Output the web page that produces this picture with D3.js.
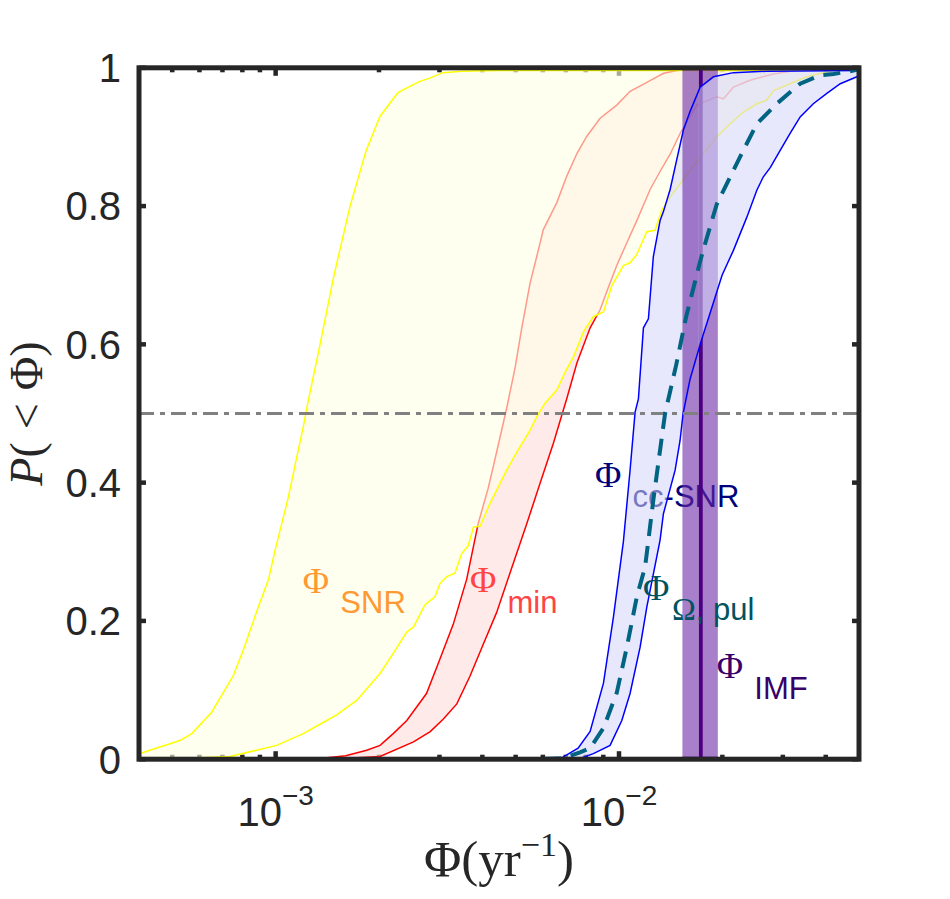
<!DOCTYPE html>
<html><head><meta charset="utf-8">
<script src="https://cdn.jsdelivr.net/npm/d3@7"></script>
<style>body{margin:0;background:#fff}svg{display:block}</style>
</head><body>
<svg id="chart" width="950" height="899"></svg>
<script>
// ---------------- data ----------------
const xDomain = [4e-4, 0.05];
const yTicks = [0, 0.2, 0.4, 0.6, 0.8, 1];
const yTickLabels = ["0", "0.2", "0.4", "0.6", "0.8", "1"];
const xMajorTicks = [1e-3, 1e-2];
const xMajorExps = ["-3", "-2"];
const xMinorTicks = [5e-4,6e-4,7e-4,8e-4,9e-4,2e-3,3e-3,4e-3,5e-3,6e-3,7e-3,8e-3,9e-3,2e-2,3e-2,4e-2];

// Phi_SNR band (yellow): left (upper) and right (lower) edges, [Phi, P]
const snrLeft = [[4.0e-4,0.008],[5.26e-4,0.027],[5.70e-4,0.037],[6.51e-4,0.068],[7.53e-4,0.121],[8.05e-4,0.158],[8.90e-4,0.220],[9.52e-4,0.259],[9.96e-4,0.302],[1.030e-3,0.331],[1.089e-3,0.379],[1.152e-3,0.437],[1.204e-3,0.481],[1.245e-3,0.519],[1.347e-3,0.600],[1.479e-3,0.700],[1.647e-3,0.800],[1.834e-3,0.880],[2.014e-3,0.930],[2.27e-3,0.964],[2.62e-3,0.980],[2.81e-3,0.985],[3.07e-3,0.993],[3.48e-3,0.995],[4.50e-3,0.996],[2.0e-2,0.996],[5.0e-2,0.997]];
const snrRight = [[4.0e-4,0.0],[5.26e-4,0.001],[7.36e-4,0.004],[8.81e-4,0.013],[1.007e-3,0.020],[1.204e-3,0.037],[1.409e-3,0.056],[1.506e-3,0.064],[1.722e-3,0.085],[2.014e-3,0.124],[2.20e-3,0.153],[2.41e-3,0.184],[2.52e-3,0.191],[2.72e-3,0.223],[2.91e-3,0.235],[3.01e-3,0.254],[3.15e-3,0.264],[3.33e-3,0.269],[3.48e-3,0.297],[3.64e-3,0.309],[3.77e-3,0.336],[3.94e-3,0.337],[4.21e-3,0.370],[4.71e-3,0.418],[5.04e-3,0.444],[5.51e-3,0.476],[5.76e-3,0.495],[6.09e-3,0.515],[6.59e-3,0.534],[6.97e-3,0.560],[7.37e-3,0.582],[7.88e-3,0.618],[8.42e-3,0.640],[9.01e-3,0.647],[9.53e-3,0.685],[1.030e-2,0.714],[1.077e-2,0.718],[1.127e-2,0.730],[1.205e-2,0.763],[1.274e-2,0.765],[1.332e-2,0.794],[1.409e-2,0.813],[1.506e-2,0.832],[1.611e-2,0.852],[1.762e-2,0.876],[1.927e-2,0.900],[2.107e-2,0.919],[2.304e-2,0.936],[2.52e-2,0.948],[2.69e-2,0.953],[2.82e-2,0.967],[3.15e-2,0.977],[3.52e-2,0.987],[4.21e-2,0.996],[5.0e-2,0.997]];

// Phi_min band (red)
const minLeft = [[4.0e-4,0.0],[1.178e-3,0.0],[1.347e-3,0.001],[1.60e-3,0.005],[1.842e-3,0.013],[2.014e-3,0.020],[2.20e-3,0.037],[2.41e-3,0.056],[2.75e-3,0.095],[3.01e-3,0.145],[3.29e-3,0.195],[3.60e-3,0.260],[3.89e-3,0.341],[4.16e-3,0.392],[4.40e-3,0.444],[4.71e-3,0.508],[4.98e-3,0.566],[5.21e-3,0.624],[5.51e-3,0.689],[5.76e-3,0.727],[6.02e-3,0.766],[6.59e-3,0.805],[7.04e-3,0.843],[7.54e-3,0.876],[8.06e-3,0.901],[8.81e-3,0.927],[9.85e-3,0.946],[1.077e-2,0.966],[1.205e-2,0.979],[1.347e-2,0.992],[1.540e-2,0.998],[1.97e-2,1.0]];
const minRight = [[4.0e-4,0.0],[1.44e-3,0.0],[2.014e-3,0.004],[2.52e-3,0.025],[2.82e-3,0.040],[3.08e-3,0.058],[3.37e-3,0.080],[3.68e-3,0.120],[4.03e-3,0.167],[4.40e-3,0.212],[4.82e-3,0.270],[5.39e-3,0.341],[5.89e-3,0.399],[6.44e-3,0.457],[7.04e-3,0.521],[7.54e-3,0.573],[8.24e-3,0.624],[8.81e-3,0.650],[9.21e-3,0.676],[9.85e-3,0.714],[1.054e-2,0.747],[1.127e-2,0.779],[1.232e-2,0.824],[1.317e-2,0.850],[1.409e-2,0.875],[1.506e-2,0.905],[1.685e-2,0.946],[1.927e-2,0.958],[2.014e-2,0.955],[2.154e-2,0.972],[2.409e-2,0.982],[2.82e-2,0.991],[3.37e-2,0.997],[4.20e-2,1.0]];

// Phi_cc-SNR band (blue)
const ccLeft = [[5.05e-3,0.0],[6.87e-3,0.003],[7.60e-3,0.016],[8.24e-3,0.040],[9.01e-3,0.110],[9.63e-3,0.205],[1.030e-2,0.315],[1.077e-2,0.418],[1.114e-2,0.502],[1.139e-2,0.521],[1.178e-2,0.624],[1.218e-2,0.637],[1.259e-2,0.727],[1.317e-2,0.779],[1.347e-2,0.792],[1.409e-2,0.824],[1.474e-2,0.868],[1.540e-2,0.910],[1.611e-2,0.937],[1.723e-2,0.972],[1.884e-2,0.987],[2.154e-2,0.993],[2.69e-2,0.995],[5.0e-2,0.996]];
const ccRight = [[5.05e-3,0.0],[7.70e-3,0.001],[8.42e-3,0.008],[9.42e-3,0.020],[1.019e-2,0.056],[1.077e-2,0.095],[1.152e-2,0.162],[1.205e-2,0.220],[1.317e-2,0.317],[1.347e-2,0.355],[1.457e-2,0.418],[1.506e-2,0.461],[1.537e-2,0.500],[1.611e-2,0.550],[1.723e-2,0.600],[1.855e-2,0.650],[1.996e-2,0.700],[2.154e-2,0.736],[2.357e-2,0.784],[2.52e-2,0.823],[2.63e-2,0.842],[2.76e-2,0.856],[2.95e-2,0.881],[3.15e-2,0.905],[3.37e-2,0.929],[3.68e-2,0.948],[4.03e-2,0.963],[4.41e-2,0.977],[4.93e-2,0.987],[5.0e-2,0.988]];

// Phi_Omega,pul (dashed)
const pulCurve = [[5.05e-3,0.0],[6.87e-3,0.001],[7.70e-3,0.010],[8.24e-3,0.016],[9.01e-3,0.045],[9.85e-3,0.096],[1.054e-2,0.162],[1.127e-2,0.235],[1.191e-2,0.278],[1.218e-2,0.317],[1.259e-2,0.375],[1.317e-2,0.447],[1.362e-2,0.500],[1.467e-2,0.570],[1.569e-2,0.640],[1.723e-2,0.720],[1.782e-2,0.746],[1.927e-2,0.803],[2.107e-2,0.842],[2.304e-2,0.881],[2.52e-2,0.919],[2.88e-2,0.948],[3.37e-2,0.977],[3.85e-2,0.989],[4.21e-2,0.991],[4.82e-2,0.996],[5.0e-2,0.998]];

// Phi_IMF value and range
const imfValue = 0.0173;
const imfRange = [0.0153, 0.0194];
const medianLevel = 0.5;

// text labels: Phi anchor in data coords, subscript text
const curveLabels = [
  {key:"snr", phi:1.20e-3, p:0.2404, sub:"SNR", color:"#ff9933"},
  {key:"min", phi:3.68e-3, p:0.2418, sub:"min", color:"#ff4444"},
  {key:"cc",  phi:8.52e-3, p:0.3941, sub:"cc-SNR", color:"#00007a"},
  {key:"pul", phi:1.175e-2, p:0.2303, sub:"\u03A9, pul", color:"#00535f"},
  {key:"imf", phi:1.927e-2, p:0.1170, sub:"IMF", color:"#3a006a"}
];

// ---------------- drawing ----------------
const svg = d3.select("#chart");
const M = {l:139, r:859, t:67.8, b:759.2};
const x = d3.scaleLog().domain(xDomain).range([M.l, M.r]);
const y = d3.scaleLinear().domain([0,1]).range([M.b, M.t]);
const line = d3.line().x(d=>x(d[0])).y(d=>y(d[1]));
const bandPath = (a,b) => line(a.concat(b.slice().reverse())) + "Z";
const AX = "#262626";
const SANS = "'Liberation Sans', Arial, Helvetica, sans-serif";
const SERIF = "'Liberation Serif', 'Times New Roman', serif";

svg.append("defs").append("clipPath").attr("id","clip")
  .append("rect").attr("x",M.l).attr("y",M.t).attr("width",M.r-M.l).attr("height",M.b-M.t);

// ticks (under the fills)
const tk = svg.append("g").attr("stroke",AX).attr("stroke-width",4.5);
const xt = xMajorTicks.map(v=>({v,len:8})).concat(xMinorTicks.map(v=>({v,len:4.5})));
xt.forEach(d=>{
  const px = x(d.v);
  tk.append("line").attr("x1",px).attr("x2",px).attr("y1",M.b).attr("y2",M.b-d.len);
  tk.append("line").attr("x1",px).attr("x2",px).attr("y1",M.t).attr("y2",M.t+d.len);
});
yTicks.forEach(v=>{
  const py = y(v);
  tk.append("line").attr("x1",M.l).attr("x2",M.l+7).attr("y1",py).attr("y2",py);
  tk.append("line").attr("x1",M.r).attr("x2",M.r-7).attr("y1",py).attr("y2",py);
});

const plot = svg.append("g").attr("clip-path","url(#clip)");

// red band
plot.append("path").attr("d",bandPath(minLeft,minRight)).attr("fill","#ffdcdc").attr("fill-opacity",0.6).attr("stroke","none");
[minLeft,minRight].forEach(c=>plot.append("path").attr("d",line(c)).attr("fill","none").attr("stroke","#ff0000").attr("stroke-width",1.5));

// yellow band
plot.append("path").attr("d",bandPath(snrLeft,snrRight)).attr("fill","#ffffe6").attr("fill-opacity",0.6).attr("stroke","none");
[snrLeft,snrRight].forEach(c=>plot.append("path").attr("d",line(c)).attr("fill","none").attr("stroke","#ffff00").attr("stroke-width",1.5));

// labels helper
function drawLabel(g, L){
  const px = x(L.phi), py = y(L.p);
  g.append("text").attr("x",px).attr("y",py).attr("font-family",SERIF).attr("font-size",36)
    .attr("fill",L.color).text("\u03A6");
  const dx = L.key==="pul" ? 29 : 37.5;
  const t = g.append("text").attr("x",px+dx).attr("y",py+20.5).attr("font-family",SANS).attr("font-size",31).attr("fill",L.color);
  if (L.key==="pul"){
    t.append("tspan").attr("font-family",SERIF).attr("font-size",32).text("\u03A9");
    t.append("tspan").text(", pul");
  } else t.text(L.sub);
}
const labG1 = plot.append("g");
curveLabels.filter(L=>["snr","min","cc"].includes(L.key)).forEach(L=>drawLabel(labG1,L));

// IMF bar: right half, centre line
plot.append("rect").attr("x",x(imfValue)).attr("width",x(imfRange[1])-x(imfValue))
  .attr("y",M.t).attr("height",M.b-M.t).attr("fill","#6c2aa7").attr("fill-opacity",0.6);
plot.append("line").attr("x1",x(imfValue)).attr("x2",x(imfValue)).attr("y1",M.t).attr("y2",M.b)
  .attr("stroke","#4b0082").attr("stroke-width",4);

// blue band fill
plot.append("path").attr("d",bandPath(ccLeft,ccRight)).attr("fill","#d6d6fa").attr("fill-opacity",0.56).attr("stroke","none");

// IMF bar left half
plot.append("rect").attr("x",x(imfRange[0])).attr("width",x(imfValue)-x(imfRange[0])-2)
  .attr("y",M.t).attr("height",M.b-M.t).attr("fill","#6c2aa7").attr("fill-opacity",0.6);
[M.t, M.b].forEach(py=>plot.append("line").attr("x1",x(imfRange[0])).attr("x2",x(imfRange[1]))
  .attr("y1",py).attr("y2",py).attr("stroke","#4b0082").attr("stroke-width",5));

// blue edges
[ccLeft,ccRight].forEach(c=>plot.append("path").attr("d",line(c)).attr("fill","none").attr("stroke","#0000ff").attr("stroke-width",1.5));

// median line
plot.append("line").attr("x1",M.l).attr("x2",M.r).attr("y1",y(medianLevel)).attr("y2",y(medianLevel))
  .attr("stroke","#808080").attr("stroke-width",3).attr("stroke-dasharray","15,6,5,6");

// dashed pul line
plot.append("path").attr("d",line(pulCurve)).attr("fill","none").attr("stroke","#006482")
  .attr("stroke-width",4).attr("stroke-dasharray","17,10");

const labG2 = plot.append("g");
curveLabels.filter(L=>["pul","imf"].includes(L.key)).forEach(L=>drawLabel(labG2,L));

// frame
svg.append("rect").attr("x",M.l).attr("y",M.t).attr("width",M.r-M.l).attr("height",M.b-M.t)
  .attr("fill","none").attr("stroke",AX).attr("stroke-width",5);

// y tick labels
svg.append("g").selectAll("text").data(yTicks).join("text")
  .attr("x",121).attr("y",d=>y(d)).attr("dy","0.36em").attr("text-anchor","end")
  .attr("font-family",SANS).attr("font-size",40).attr("fill",AX)
  .text((d,i)=>yTickLabels[i]);

// x tick labels
xMajorTicks.forEach((v,i)=>{
  const t = svg.append("text").attr("x",x(v)).attr("y",826).attr("text-anchor","middle")
    .attr("font-family",SANS).attr("font-size",40).attr("fill",AX);
  t.append("tspan").text("10");
  t.append("tspan").attr("dy",-21).attr("font-size",28).text(xMajorExps[i].replace("-","\u2212"));
});

// x axis label
const xl = svg.append("text").attr("x",(M.l+M.r)/2).attr("y",876).attr("text-anchor","middle")
  .attr("font-family",SERIF).attr("font-size",51).attr("fill",AX);
xl.append("tspan").text("\u03A6(yr");
xl.append("tspan").attr("dy",-20).attr("font-size",34).text("\u22121");
xl.append("tspan").attr("dy",20).text(")");

// y axis label
const yl = svg.append("text").attr("transform",`translate(42,${y(0.5)}) rotate(-90)`).attr("text-anchor","middle")
  .attr("font-family",SERIF).attr("font-size",46).attr("fill",AX);
yl.append("tspan").attr("font-style","italic").text("P");
yl.append("tspan").text("(");
yl.append("tspan").attr("dx",13).text("<");
yl.append("tspan").attr("dx",13).text("\u03A6)");
</script>
</body></html>
